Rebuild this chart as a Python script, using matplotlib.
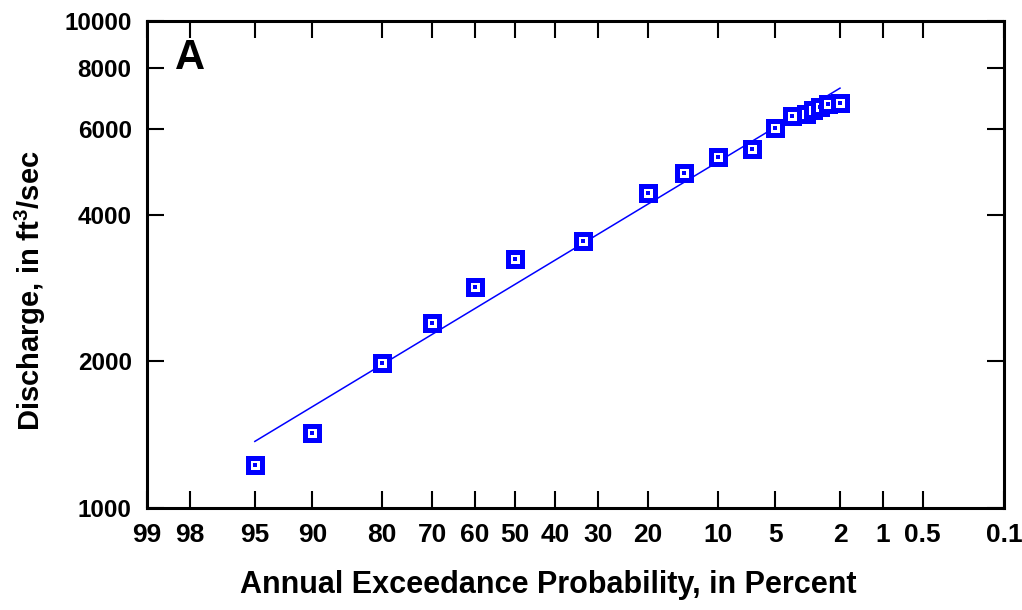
import matplotlib
matplotlib.use("Agg")
import matplotlib.pyplot as plt
import numpy as np
from statistics import NormalDist

plt.rcParams['font.family'] = ['Liberation Sans', 'DejaVu Sans']
plt.rcParams['font.weight'] = 'bold'
plt.rcParams['mathtext.fontset'] = 'custom'
plt.rcParams['mathtext.bf'] = 'Liberation Sans:bold'
plt.rcParams['mathtext.rm'] = 'Liberation Sans:bold'

# Annual exceedance probability (percent) and discharge (ft3/sec)
obs_aep = [95, 90, 80, 70, 60, 50, 33.3, 20, 14.3, 10, 6.7, 5, 4, 3.3, 3.0, 2.7, 2.4, 2.0]
obs_q = [1225, 1426, 1985, 2395, 2848, 3242, 3540, 4441, 4866, 5250,
         5458, 6030, 6381, 6444, 6569, 6659, 6754, 6785]

# Fitted frequency curve endpoints
fit_aep = [95, 2]
fit_q = [1370, 7280]

x_ticks_pct = [99, 98, 95, 90, 80, 70, 60, 50, 40, 30, 20, 10, 5, 2, 1, 0.5, 0.1]
x_tick_labels = ['99', '98', '95', '90', '80', '70', '60', '50', '40', '30', '20',
                 '10', '5', '2', '1', '0.5', '0.1']
y_ticks = [1000, 2000, 4000, 6000, 8000, 10000]
y_tick_labels = ['1000', '2000', '4000', '6000', '8000', '10000']

nd = NormalDist()


def z(p):
    return nd.inv_cdf(1 - p / 100.0)


fig = plt.figure(figsize=(10.22, 6.10), dpi=100)
ax = fig.add_axes([147 / 1022, 102 / 610, 857 / 1022, 487 / 610])

blue = '#0000FF'
# fitted line (straight in z-log space)
zl = np.linspace(z(fit_aep[0]), z(fit_aep[1]), 50)
lq = np.log10(fit_q[0]) + (zl - zl[0]) / (zl[-1] - zl[0]) * (np.log10(fit_q[1]) - np.log10(fit_q[0]))
ax.plot(zl, 10 ** lq, color=blue, lw=1.1, zorder=2)

xs = [z(p) for p in obs_aep]
ax.plot(xs, obs_q, ls='none', marker='s', ms=9.6, mew=3.6, mec=blue, mfc='white', zorder=3)
ax.plot(xs, obs_q, ls='none', marker='s', ms=3.4, mew=0, mfc=blue, zorder=4)

ax.set_yscale('log')
ax.set_ylim(1000, 10000)
ax.set_xlim(z(99), z(0.1))
ax.set_yticks(y_ticks)
ax.set_yticklabels(y_tick_labels)
ax.yaxis.set_minor_locator(matplotlib.ticker.NullLocator())
ax.set_xticks([z(p) for p in x_ticks_pct])
ax.set_xticklabels(x_tick_labels)

ax.tick_params(axis='both', which='major', direction='in', length=12, width=1.5,
               top=True, right=True, color='black')
ax.tick_params(axis='x', labelsize=19, pad=11)
ax.tick_params(axis='y', labelsize=17.5, pad=11)
for lab in ax.get_xticklabels() + ax.get_yticklabels():
    lab.set_fontweight('bold')
for s in ax.spines.values():
    s.set_linewidth(2.2)

ax.text(0.05, 0.924, 'A', transform=ax.transAxes, ha='center', va='center',
        fontsize=30, fontweight='bold')

fig.text(548 / 1022, 1 - 585 / 610, 'Annual Exceedance Probability, in Percent',
         ha='center', va='center', fontsize=22, fontweight='bold')
fig.text(30 / 1022, 1 - 291 / 610, r'Discharge, in ft$^{\mathbf{3}}$/sec', rotation=90,
         ha='center', va='center', fontsize=21, fontweight='bold')

fig.savefig('out.png', dpi=100)
